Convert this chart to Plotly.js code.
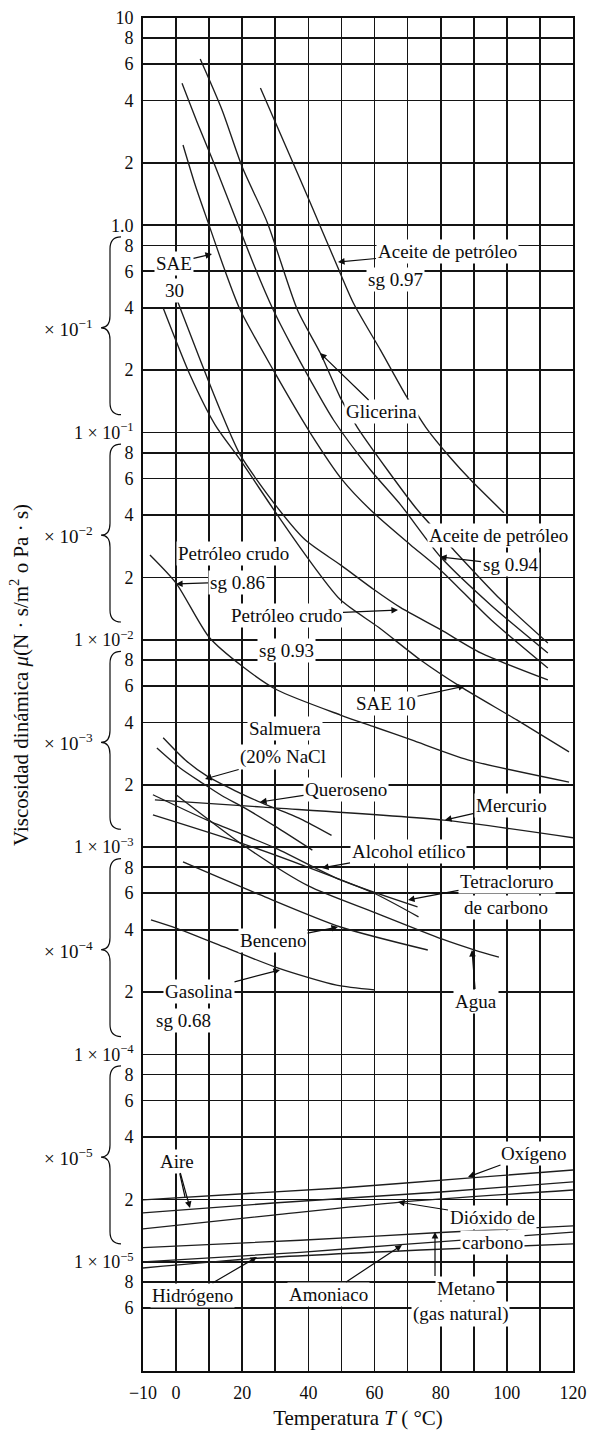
<!DOCTYPE html>
<html>
<head>
<meta charset="utf-8">
<script src="https://cdn.plot.ly/plotly-3.0.1.min.js"></script>
<style>html,body{margin:0;padding:0;background:#fff;}</style>
</head>
<body>
<div id="chart" style="width:589px;height:1431px;"></div>
<script>
// ---------------- DATA ----------------
// Temperature (°C) and dynamic viscosity (Pa·s)
const tGlicerina = [7.3, 13.9, 20, 27.6, 36.7, 43.6, 49.7, 54.8, 63.9, 73, 83.9, 98.2, 112.4];
const muGlicerina = [6.34, 3.6, 1.91, 1.03, 0.39, 0.242, 0.147, 0.106, 0.066, 0.0423, 0.0272, 0.0156, 0.00966];

const tAceite097 = [25.5, 33, 40.6, 48.2, 53.6, 61.8, 69.7, 75.5, 83, 89.1, 99.1];
const muAceite097 = [4.59, 2.44, 1.28, 0.665, 0.422, 0.25, 0.149, 0.106, 0.0754, 0.059, 0.041];

const tAceite094 = [1.8, 6.7, 11.8, 18.5, 23.9, 29.4, 34.5, 40.6, 47.6, 58.8, 67.9, 80, 95.2, 112.4];
const muAceite094 = [4.85, 3.05, 1.93, 1.03, 0.622, 0.39, 0.27, 0.179, 0.115, 0.066, 0.0448, 0.0251, 0.0147, 0.00865];

const tSAE30 = [2.1, 5.8, 9.7, 14.5, 19.4, 29.4, 40.6, 50.3, 59.7, 70.9, 80, 95.2, 112.4];
const muSAE30 = [2.44, 1.56, 1.03, 0.622, 0.39, 0.2, 0.0995, 0.059, 0.041, 0.0287, 0.0217, 0.0125, 0.00731];

const tCrudo093 = [0.3, 7.3, 13.3, 19.4, 30, 39.1, 49.7, 60, 67.9, 80, 92.1, 112.4];
const muCrudo093 = [0.436, 0.224, 0.129, 0.078, 0.0448, 0.0303, 0.023, 0.0174, 0.0143, 0.0112, 0.00865, 0.00641];

const tSAE10 = [-3.9, 4.2, 11.8, 19.4, 30, 39.1, 49.7, 61.2, 73.9, 86.1, 103, 118.8];
const muSAE10 = [0.399, 0.19, 0.109, 0.0738, 0.0414, 0.0257, 0.0156, 0.0115, 0.008, 0.00593, 0.00411, 0.00288];

const tCrudo086 = [-7.9, 0, 10, 20.3, 30.6, 49.7, 60, 71.2, 88.2, 118.8];
const muCrudo086 = [0.0257, 0.0188, 0.0103, 0.0074, 0.00573, 0.00434, 0.0038, 0.00329, 0.00264, 0.00206];

const tQueroseno = [-3.9, 2.7, 9.4, 17.9, 26.1, 37.6, 47];
const muQueroseno = [0.00337, 0.00264, 0.0022, 0.00187, 0.00163, 0.00137, 0.00114];

const tSalmuera = [-5.8, 1.2, 7.9, 13.9, 20.3, 30, 41.2];
const muSalmuera = [0.00301, 0.00241, 0.00204, 0.00177, 0.00156, 0.00126, 0.000968];

const tMercurio = [-6.4, 26.4, 80.9, 120];
const muMercurio = [0.00169, 0.00156, 0.00135, 0.00111];

const tAlcohol = [-7, 9.4, 29.4, 49.7, 73];
const muAlcohol = [0.00179, 0.00135, 0.001, 0.000695, 0.000515];

const tTetracloruro = [-7, 19.4, 39.7, 59.7, 73.3];
const muTetracloruro = [0.00143, 0.00105, 0.000802, 0.000601, 0.000461];

const tAgua = [0, 20, 40, 60.3, 80.3, 90.3, 97.6];
const muAgua = [0.00179, 0.00103, 0.00065, 0.000482, 0.000361, 0.000319, 0.000295];

const tBenceno = [2.1, 25.5, 49.7, 76.1];
const muBenceno = [0.000849, 0.000588, 0.000412, 0.000319];

const tGasolina = [-7.6, 0, 14.5, 30.9, 48.5, 60];
const muGasolina = [0.000446, 0.000407, 0.00033, 0.000261, 0.000216, 0.000205];

const tOxigeno = [-10, 49.7, 89.1, 120];
const muOxigeno = [1.99e-5, 2.27e-5, 2.54e-5, 2.77e-5];

const tAire = [-10, 29.4, 80, 120];
const muAire = [1.72e-5, 1.92e-5, 2.17e-5, 2.43e-5];

const tCO2 = [-10, 29.4, 67.9, 120];
const muCO2 = [1.44e-5, 1.68e-5, 1.94e-5, 2.22e-5];

const tMetano = [-10, 37.6, 78.5, 120];
const muMetano = [1.17e-5, 1.27e-5, 1.38e-5, 1.49e-5];

const tAmoniaco = [-10, 37.6, 67.9, 120];
const muAmoniaco = [9.98e-6, 1.11e-5, 1.21e-5, 1.39e-5];

const tHidrogeno = [-10, 24.5, 73.9, 120];
const muHidrogeno = [9.33e-6, 1.04e-5, 1.14e-5, 1.22e-5];

// Tick values / labels
const xTickVals = [-10, 0, 20, 40, 60, 80, 100, 120];
const xTickText = ['\u221210', '0', '20', '40', '60', '80', '100', '120'];
const xMinorGrid = [10, 30, 50, 70, 90, 110];

const yTickVals = [10, 8, 6, 4, 2, 1,
  0.8, 0.6, 0.4, 0.2, 0.1,
  0.08, 0.06, 0.04, 0.02, 0.01,
  0.008, 0.006, 0.004, 0.002, 0.001,
  0.0008, 0.0006, 0.0004, 0.0002, 0.0001,
  0.00008, 0.00006, 0.00004, 0.00002, 0.00001,
  0.000008, 0.000006];
const yTickText = ['10', '8', '6', '4', '2', '1.0',
  '8', '6', '4', '2', '1 \u00d7 10<sup>\u22121</sup>',
  '8', '6', '4', '2', '1 \u00d7 10<sup>\u22122</sup>',
  '8', '6', '4', '2', '1 \u00d7 10<sup>\u22123</sup>',
  '8', '6', '4', '2', '1 \u00d7 10<sup>\u22124</sup>',
  '8', '6', '4', '2', '1 \u00d7 10<sup>\u22125</sup>',
  '8', '6'];

const braceExponents = [-1, -2, -3, -4, -5];

// ---------------- LAYOUT / DRAWING ----------------
const W = 589, H = 1431;
const PLOT = {l: 143, r: 573, t: 18, b: 1371};
const Y_RANGE = [-5.527, 1];
const FONT = 'Liberation Serif, Times New Roman, serif';
const INK = '#0d0d0d';
const GRID = '#141414';

function paperX(px) { return (px - PLOT.l) / (PLOT.r - PLOT.l); }
function paperY(py) { return (PLOT.b - py) / (PLOT.b - PLOT.t); }
function paperYv(v) { return (Math.log10(v) - Y_RANGE[0]) / (Y_RANGE[1] - Y_RANGE[0]); }

const series = [
  [tGlicerina, muGlicerina], [tAceite097, muAceite097], [tAceite094, muAceite094],
  [tSAE30, muSAE30], [tCrudo093, muCrudo093], [tSAE10, muSAE10], [tCrudo086, muCrudo086],
  [tQueroseno, muQueroseno], [tSalmuera, muSalmuera], [tMercurio, muMercurio],
  [tAlcohol, muAlcohol], [tTetracloruro, muTetracloruro], [tAgua, muAgua],
  [tBenceno, muBenceno], [tGasolina, muGasolina],
  [tOxigeno, muOxigeno], [tAire, muAire], [tCO2, muCO2], [tMetano, muMetano],
  [tAmoniaco, muAmoniaco], [tHidrogeno, muHidrogeno]
];

const traces = series.map(s => ({
  x: s[0], y: s[1], type: 'scatter', mode: 'lines',
  line: {color: '#1e1e1e', width: 1.35, shape: 'spline', smoothing: 0.7},
  hoverinfo: 'skip', showlegend: false
}));

// label layout: text centre and arrow tip in page pixels
const labels = [
  {text: 'Aceite de petróleo', c: [447, 252], tip: [338, 262]},
  {text: 'sg 0.97', c: [395, 280]},
  {text: 'SAE', c: [174, 263], tip: [212, 254]},
  {text: '30', c: [174, 290]},
  {text: 'Glicerina', c: [381, 412], tip: [320, 353]},
  {text: 'Aceite de petróleo', c: [498, 535]},
  {text: 'sg 0.94', c: [510, 565], tip: [440, 557]},
  {text: 'Petróleo crudo', c: [233, 553]},
  {text: 'sg 0.86', c: [237, 582], tip: [176, 584]},
  {text: 'Petróleo crudo', c: [286, 615], tip: [398, 610]},
  {text: 'sg 0.93', c: [286, 650]},
  {text: 'SAE 10', c: [386, 703], tip: [465, 686]},
  {text: 'Salmuera', c: [285, 728]},
  {text: '(20% NaCl', c: [283, 757], tip: [205, 779]},
  {text: 'Queroseno', c: [346, 789], tip: [260, 802]},
  {text: 'Mercurio', c: [511, 805], tip: [445, 820]},
  {text: 'Alcohol etílico', c: [408, 852], tip: [322, 868]},
  {text: 'Tetracloruro', c: [507, 881], tip: [408, 900]},
  {text: 'de carbono', c: [506, 908]},
  {text: 'Benceno', c: [273, 940], tip: [338, 927]},
  {text: 'Agua', c: [476, 1001], tip: [472, 950]},
  {text: 'Gasolina', c: [199, 991], tip: [280, 970]},
  {text: 'sg 0.68', c: [183, 1020]},
  {text: 'Aire', c: [177, 1161], tip: [190, 1208]},
  {text: 'Oxígeno', c: [533, 1153], tip: [468, 1177]},
  {text: 'Dióxido de', c: [492, 1217], tip: [398, 1202]},
  {text: 'carbono', c: [492, 1242]},
  {text: 'Hidrógeno', c: [192, 1295], tip: [257, 1257]},
  {text: 'Amoniaco', c: [328, 1294], tip: [402, 1245]},
  {text: '(gas natural)', c: [460, 1314]}
];

const annotations = labels.map(l => {
  const a = {
    text: l.text, xref: 'paper', yref: 'paper',
    font: {family: FONT, size: 19, color: INK},
    bgcolor: '#ffffff', borderpad: 1, xanchor: 'center', yanchor: 'middle'
  };
  if (l.tip) {
    a.x = paperX(l.tip[0]); a.y = paperY(l.tip[1]);
    a.showarrow = true; a.axref = 'pixel'; a.ayref = 'pixel';
    a.ax = l.c[0] - l.tip[0]; a.ay = l.c[1] - l.tip[1];
    a.arrowhead = 2; a.arrowsize = 1.1; a.arrowwidth = 1.2; a.arrowcolor = INK; a.standoff = 0;
  } else {
    a.x = paperX(l.c[0]); a.y = paperY(l.c[1]); a.showarrow = false;
  }
  return a;
});

// "Metano" with a vertical pointer rising from the left of the word
annotations.push({
  text: 'Metano', xref: 'paper', yref: 'paper', x: paperX(435), y: paperY(1232),
  xanchor: 'left', yanchor: 'top',
  showarrow: true, axref: 'pixel', ayref: 'pixel', ax: 0, ay: 44,
  arrowhead: 2, arrowsize: 1.1, arrowwidth: 1.2, arrowcolor: INK, standoff: 0,
  bgcolor: '#ffffff', borderpad: 1, font: {family: FONT, size: 19, color: INK}
});

// y-axis title (placed left of the braces)
annotations.push({
  text: 'Viscosidad dinámica <i>μ</i>(N · s/m<sup>2</sup> o Pa · s)',
  xref: 'paper', yref: 'paper', x: paperX(19), y: paperY(675),
  textangle: -90, showarrow: false, xanchor: 'center', yanchor: 'middle',
  font: {family: FONT, size: 21, color: INK}
});

// braces and "× 10^k" labels
const shapes = [];
braceExponents.forEach(k => {
  const d = Math.pow(10, k);
  const yTop = paperYv(8.8 * d), yBot = paperYv(1.22 * d), yC = paperYv(3.2 * d);
  const xr = paperX(121), xm = paperX(110), xc = paperX(101);
  const r = 12 / (PLOT.b - PLOT.t);
  const path = `M ${xr},${yTop} Q ${xm},${yTop} ${xm},${yTop - r} L ${xm},${yC + r} ` +
               `Q ${xm},${yC} ${xc},${yC} Q ${xm},${yC} ${xm},${yC - r} ` +
               `L ${xm},${yBot + r} Q ${xm},${yBot} ${xr},${yBot}`;
  shapes.push({type: 'path', xref: 'paper', yref: 'paper', path: path,
               line: {color: INK, width: 1.2}});
  annotations.push({
    text: '\u00d7 10<sup>\u2212' + (-k) + '</sup>', xref: 'paper', yref: 'paper',
    x: paperX(95), y: yC, xanchor: 'right', yanchor: 'middle', showarrow: false,
    font: {family: FONT, size: 19, color: INK}
  });
});

// second leg of the "Aire" pointer
shapes.push({type: 'line', xref: 'paper', yref: 'paper',
  x0: paperX(179), y0: paperY(1170), x1: paperX(185), y1: paperY(1197),
  line: {color: INK, width: 1.2}});

const layout = {
  width: W, height: H,
  margin: {l: PLOT.l, r: W - PLOT.r, t: PLOT.t, b: H - PLOT.b, pad: 0},
  paper_bgcolor: '#ffffff', plot_bgcolor: '#ffffff',
  font: {family: FONT, color: INK},
  showlegend: false,
  xaxis: {
    range: [-10, 120], tickmode: 'array', tickvals: xTickVals, ticktext: xTickText,
    showgrid: true, gridcolor: GRID, gridwidth: 1.7, zeroline: false,
    minor: {tickmode: 'array', tickvals: xMinorGrid, showgrid: true, gridcolor: GRID, gridwidth: 1.7, ticks: ''},
    showline: true, mirror: true, linecolor: INK, linewidth: 1.8,
    ticks: 'outside', ticklen: 5, tickcolor: 'rgba(0,0,0,0)',
    tickfont: {family: FONT, size: 18, color: INK},
    title: {text: 'Temperatura <i>T</i> ( °C)', font: {family: FONT, size: 21, color: INK}, standoff: 8},
    automargin: false, fixedrange: true
  },
  yaxis: {
    type: 'log', range: Y_RANGE, tickmode: 'array', tickvals: yTickVals, ticktext: yTickText,
    showgrid: true, gridcolor: GRID, gridwidth: 1.7, zeroline: false,
    showline: true, mirror: true, linecolor: INK, linewidth: 1.8,
    ticks: 'outside', ticklen: 4, tickcolor: 'rgba(0,0,0,0)',
    tickfont: {family: FONT, size: 18, color: INK},
    automargin: false, fixedrange: true
  },
  annotations: annotations,
  shapes: shapes
};

Plotly.newPlot('chart', traces, layout, {staticPlot: true, displayModeBar: false});
</script>
</body>
</html>
